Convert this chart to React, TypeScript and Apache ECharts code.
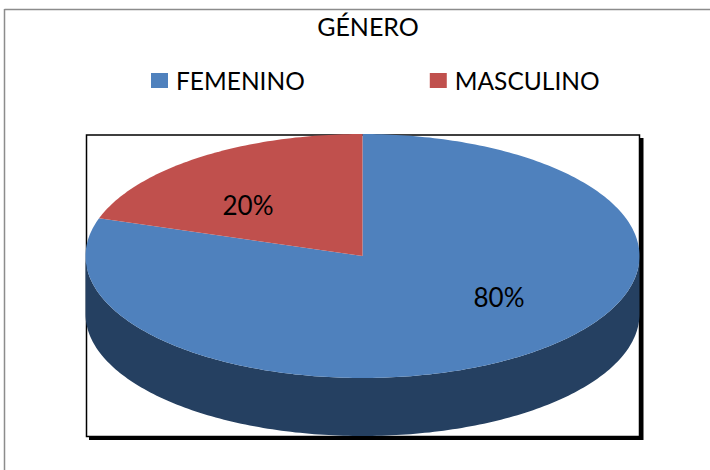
import React, { useEffect, useRef } from "react";
import * as echarts from "echarts";

const TITLE = "GÉNERO";
const categories = ["FEMENINO", "MASCULINO"];
const values = [80, 20];
const topColors = ["#4F81BD", "#C0504D"];
const sideColors = ["#254061", "#632523"];
const labelPositions = [[499, 297], [248, 205]];

const CX = 362.5, CY = 256, RX = 277, RY = 122, DEPTH = 58;
const FONT = "Lato, Carlito, Calibri, sans-serif";
const total = values.reduce((a, b) => a + b, 0);

const pt = (deg: number, dy = 0) => {
  const r = (deg * Math.PI) / 180;
  return [CX + RX * Math.sin(r), CY - RY * Math.cos(r) + dy];
};
const arc = (a: number, b: number, dy = 0) => {
  const n = Math.max(2, Math.ceil(Math.abs(b - a)));
  const out: number[][] = [];
  for (let i = 0; i <= n; i++) out.push(pt(a + ((b - a) * i) / n, dy));
  return out;
};

const makeSeries = (name: string, i: number) => ({
  type: "custom",
  name,
  coordinateSystem: "none",
  z: 5,
  silent: true,
  itemStyle: { color: topColors[i] },
  data: [values[i]],
  renderItem: (_p: any, api: any) => {
    const v = api.value(0);
    const before = values.slice(0, i).reduce((a, b) => a + b, 0);
    const start = (before / total) * 360;
    const end = ((before + v) / total) * 360;
    const children: any[] = [];
    const s = Math.max(start, 90), e = Math.min(end, 270);
    if (e > s) {
      children.push({
        type: "polygon",
        shape: { points: [...arc(s, e), ...arc(e, s, DEPTH)] },
        style: { fill: sideColors[i] },
      });
    }
    children.push({
      type: "polygon",
      shape: { points: [[CX, CY], ...arc(start, end)] },
      style: { fill: topColors[i] },
    });
    children.push({
      type: "text",
      style: {
        text: `${Math.round((v / total) * 100)}%`,
        x: labelPositions[i][0],
        y: labelPositions[i][1],
        fill: "#000",
        font: `26px ${FONT}`,
        align: "center",
        verticalAlign: "middle",
      },
    });
    return { type: "group", children };
  },
});

export default function App() {
  const ref = useRef<HTMLDivElement>(null);
  useEffect(() => {
    document.body.style.margin = "0";
    const chart = echarts.init(ref.current!, null, { renderer: "svg" });
    chart.setOption({
      animation: false,
      backgroundColor: "#fff",
      title: {
        text: TITLE,
        left: 363,
        top: 8,
        textAlign: "center",
        textStyle: { fontFamily: FONT, fontSize: 25, fontWeight: "normal", color: "#000" },
      },
      legend: {
        data: categories,
        left: 146,
        top: 63,
        icon: "rect",
        itemWidth: 17,
        itemHeight: 15,
        itemGap: 125,
        selectedMode: false,
        textStyle: { fontFamily: FONT, fontSize: 24.5, color: "#000", padding: [0, 0, 8, 3] },
      },
      graphic: [
        { type: "line", z: 0, shape: { x1: 4.5, y1: 9.5, x2: 710, y2: 9.5 }, style: { stroke: "#8c8c8c", lineWidth: 1.5 } },
        { type: "line", z: 0, shape: { x1: 4.5, y1: 9, x2: 4.5, y2: 470 }, style: { stroke: "#8c8c8c", lineWidth: 1.5 } },
        { type: "rect", z: 0, shape: { x: 89, y: 138, width: 554.5, height: 302 }, style: { fill: "#000" } },
        { type: "rect", z: 1, shape: { x: 86.5, y: 135, width: 553, height: 301.5 }, style: { fill: "#fff", stroke: "#000", lineWidth: 1.5 } },
      ],
      series: categories.map(makeSeries),
    });
    return () => chart.dispose();
  }, []);
  return <div ref={ref} style={{ width: 710, height: 470 }} />;
}
